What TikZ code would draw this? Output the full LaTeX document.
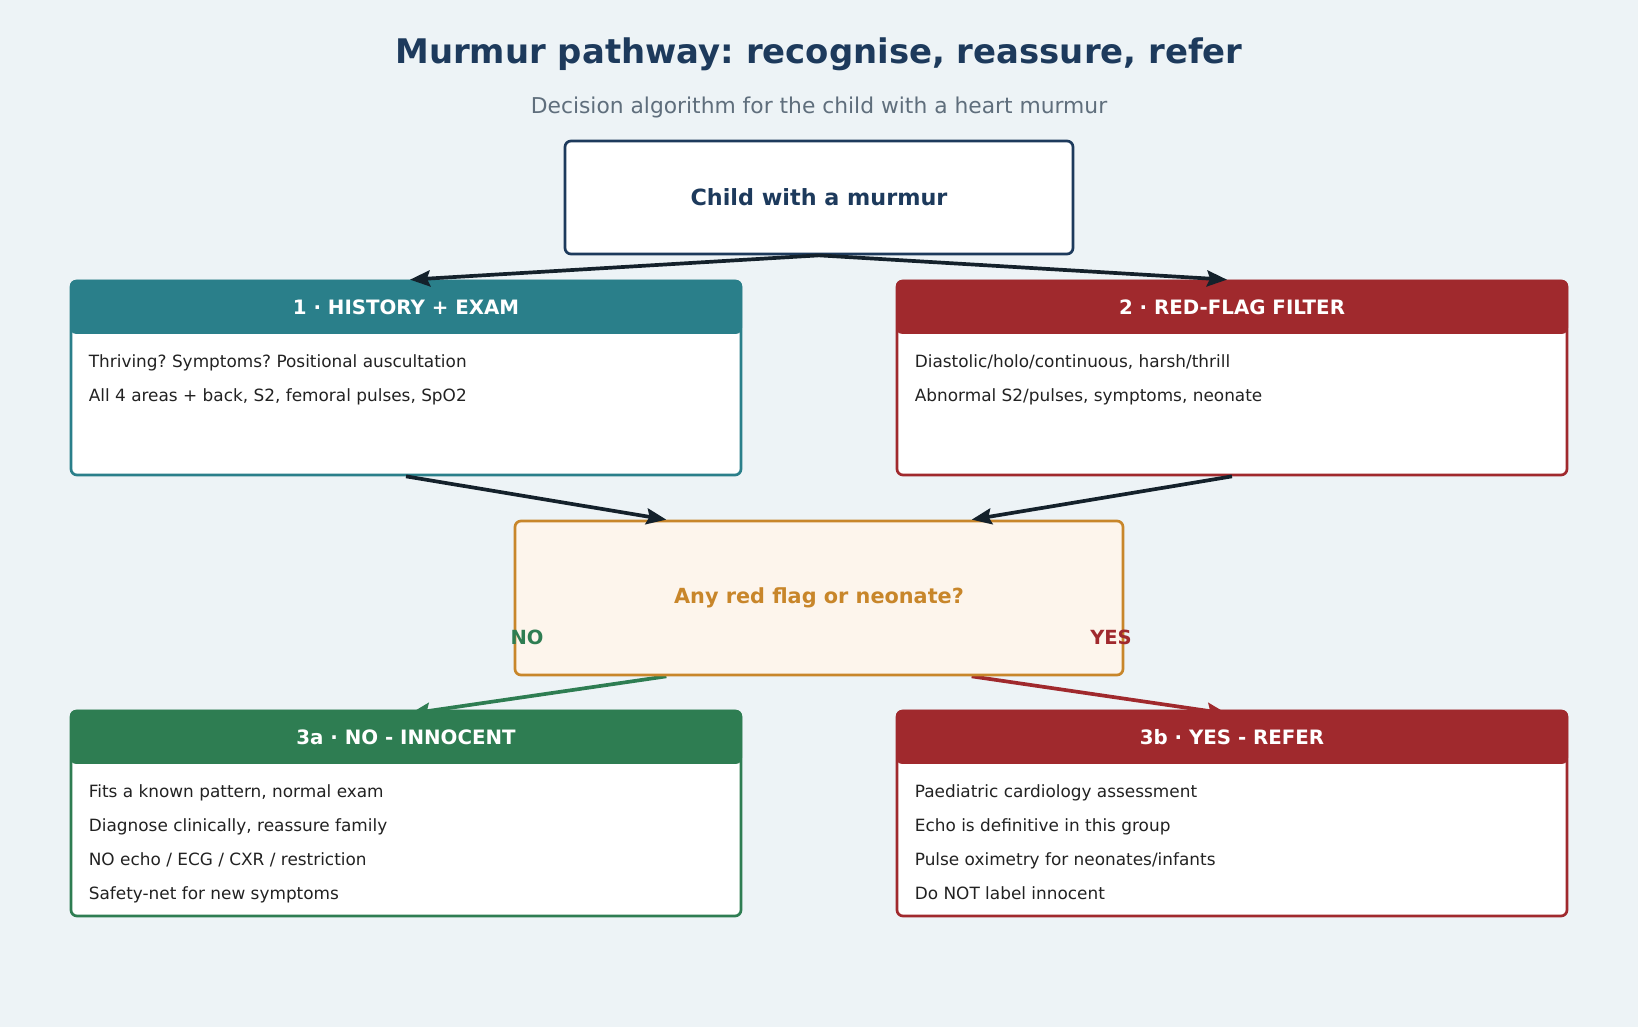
\documentclass[tikz,border=0pt]{standalone}
\usepackage{fontspec}
\setmainfont{DejaVu Sans}
\usetikzlibrary{arrows.meta,calc}
\definecolor{bgc}{HTML}{EDF3F6}
\definecolor{navy}{HTML}{1D3A5C}
\definecolor{subgrey}{HTML}{5F6E7C}
\definecolor{tealc}{HTML}{2A7F8A}
\definecolor{redc}{HTML}{A0292D}
\definecolor{greenc}{HTML}{2E7D52}
\definecolor{orangec}{HTML}{C8862A}
\definecolor{orfill}{HTML}{FDF5EC}
\definecolor{arrowc}{HTML}{14212B}
\definecolor{bodyc}{HTML}{222222}
\pgfdeclarelayer{back}
\pgfdeclarelayer{bg}
\pgfsetlayers{back,bg,main}
\frenchspacing
\tikzset{
  outerbox/.style={draw, line width=2.7pt, rounded corners=6pt, fill=white, minimum width=670pt, minimum height=194pt, inner sep=0pt},
  hdr/.style={rounded corners=6pt, minimum width=672pt, minimum height=54pt, inner sep=0pt, text=white, font=\fontsize{19.8}{23}\selectfont\bfseries, anchor=north},
  bodytxt/.style={anchor=west, inner sep=0pt, text height=12.5pt, text depth=4pt, text=bodyc, font=\fontsize{16.9}{20}\selectfont},
  conn/.style={line width=3.7pt, draw=arrowc, -{Stealth[length=20pt,width=16pt,inset=3pt]}},
  branch/.style={line width=3.7pt, -{Stealth[length=20pt,width=16pt,inset=3pt]}},
}
\begin{document}
\begin{tikzpicture}[x=1pt,y=-1pt]
\useasboundingbox (0,0) rectangle (1638,1027);
\begin{pgfonlayer}{back}
\fill[bgc] (0,0) rectangle (1638,1027);
\end{pgfonlayer}

\node[text=navy, font=\fontsize{33.9}{38}\selectfont\bfseries] (title) at (819,54) {Murmur pathway: recognise, reassure, refer};
\node[text=subgrey, font=\fontsize{21.8}{25}\selectfont] (sub) at (819,107) {Decision algorithm for the child with a heart murmur};

% top box
\node[draw=navy, line width=2.7pt, rounded corners=6pt, fill=white, minimum width=508pt, minimum height=113pt, text=navy, font=\fontsize{22.3}{26}\selectfont\bfseries] (start) at (819,197.5) {Child with a murmur};

% box 1
\node[outerbox, draw=tealc] (b1) at (406,378) {};
\node[hdr, fill=tealc] (h1) at (b1.north) {1 · HISTORY + EXAM};
\node[bodytxt] (b1a) at ($(b1.north west)+(19,84)$) {Thriving? Symptoms? Positional auscultation};
\node[bodytxt] (b1b) at ($(b1.north west)+(19,118)$) {All 4 areas + back, S2, femoral pulses, SpO2};

% box 2
\node[outerbox, draw=redc] (b2) at (1232,378) {};
\node[hdr, fill=redc] (h2) at (b2.north) {2 · RED-FLAG FILTER};
\node[bodytxt] (b2a) at ($(b2.north west)+(19,84)$) {Diastolic/holo/continuous, harsh/thrill};
\node[bodytxt] (b2b) at ($(b2.north west)+(19,118)$) {Abnormal S2/pulses, symptoms, neonate};

% decision
\node[draw=orangec, fill=orfill, line width=2.7pt, rounded corners=6pt, minimum width=608pt, minimum height=154pt, text=orangec, font=\fontsize{20.8}{24}\selectfont\bfseries] (dec) at (819,598) {Any red flag or neonate?};
\node[text=greenc, font=\fontsize{19.5}{23}\selectfont\bfseries] (no) at (527,637) {NO};
\node[text=redc, font=\fontsize{19.5}{23}\selectfont\bfseries] (yes) at (1111,637) {YES};

% box 3a
\node[outerbox, draw=greenc, minimum height=205pt] (b3) at (406,813.5) {};
\node[hdr, fill=greenc] (h3) at (b3.north) {3a · NO - INNOCENT};
\node[bodytxt] (b3a) at ($(b3.north west)+(19,84)$) {Fits a known pattern, normal exam};
\node[bodytxt] (b3b) at ($(b3.north west)+(19,118)$) {Diagnose clinically, reassure family};
\node[bodytxt] (b3c) at ($(b3.north west)+(19,152)$) {NO echo / ECG / CXR / restriction};
\node[bodytxt] (b3d) at ($(b3.north west)+(19,186)$) {Safety-net for new symptoms};

% box 3b
\node[outerbox, draw=redc, minimum height=205pt] (b4) at (1232,813.5) {};
\node[hdr, fill=redc] (h4) at (b4.north) {3b · YES - REFER};
\node[bodytxt] (b4a) at ($(b4.north west)+(19,84)$) {Paediatric cardiology assessment};
\node[bodytxt] (b4b) at ($(b4.north west)+(19,118)$) {Echo is definitive in this group};
\node[bodytxt] (b4c) at ($(b4.north west)+(19,152)$) {Pulse oximetry for neonates/infants};
\node[bodytxt] (b4d) at ($(b4.north west)+(19,186)$) {Do NOT label innocent};

% connectors
\draw[conn] (start.south) -- ($(h1.north)+(4,0)$);
\draw[conn] (start.south) -- ($(h2.north)+(-5,0)$);
\draw[conn] (b1.south) -- ($(dec.north west)!0.25!(dec.north east)$);
\draw[conn] (b2.south) -- ($(dec.north west)!0.75!(dec.north east)$);
\begin{pgfonlayer}{bg}
\draw[branch, draw=greenc, fill=greenc] ($(dec.south west)!0.25!(dec.south east)$) -- ($(h3.north)+(4,4)$);
\draw[branch, draw=redc, fill=redc] ($(dec.south west)!0.75!(dec.south east)$) -- ($(h4.north)+(-5,4)$);
\end{pgfonlayer}
\end{tikzpicture}
\end{document}
